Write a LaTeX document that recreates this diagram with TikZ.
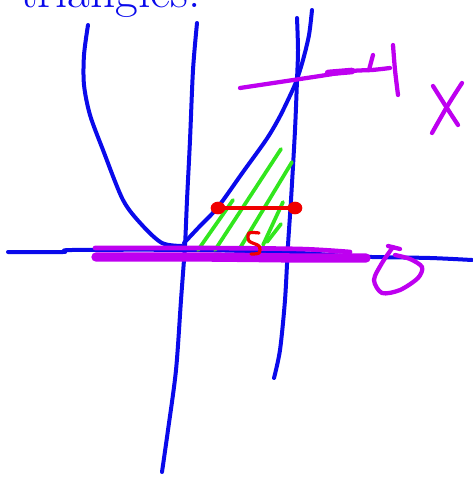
\documentclass[tikz,border=0pt]{standalone}
\usetikzlibrary{positioning,shapes.geometric}
\definecolor{penblue}{RGB}{10,10,235}
\definecolor{penpink}{RGB}{190,0,240}
\definecolor{pengreen}{RGB}{50,230,30}
\definecolor{penred}{RGB}{240,0,0}

\begin{document}
\begin{tikzpicture}
  [x=0.75pt,y=-0.75pt,line cap=round,line join=round,
   blueline/.style={draw=penblue,line width=3pt},
   pinkline/.style={draw=penpink,line width=3.2pt},
   hatch/.style={draw=pengreen,line width=2.8pt},
   redink/.style={draw=penred,line width=2.8pt},
   dot/.style={ellipse,fill=penred,inner sep=0pt,minimum width=11pt,minimum height=9.5pt}]
  \useasboundingbox (0,0) rectangle (472,477);

  % heading, cut off at the top
  \node[anchor=base west,inner sep=0pt,text=penblue,
        font=\fontsize{37}{40}\selectfont] (title) at (20,8) {triangles:};

  % axes
  \draw[blueline] plot[smooth] coordinates {(8,252) (63,252) (72,250) (200,250)
    (300,253) (345,256) (372,257) (430,258) (472,260)};
  \draw[blueline] plot[smooth] coordinates {(197,23) (193,70) (190,140) (187,200)
    (185,245) (181,300) (176,370) (168,430) (162,472)};

  % the line x = 4
  \draw[blueline] plot[smooth] coordinates {(297,18) (298,50) (297,80) (295,130)
    (291,200) (288,245) (285,300) (280,350) (274,378)};

  % parabola
  \draw[blueline] plot[smooth] coordinates {(88,25) (84,55) (84,85) (90,115)
    (103,150) (123,200) (142,225) (162,243) (182,246)};
  \draw[blueline] plot[smooth] coordinates {(184,243) (200,226) (218,207)
    (243,172) (266,140) (278,120) (287,102) (296,82) (303,60) (309,35) (312,10)};

  % shaded region
  \draw[hatch] (281,149) -- (215,250);
  \draw[hatch] (292,162) -- (240,248);
  \draw[hatch] (233,200) -- (198,250);
  \draw[hatch] (283,202) -- (263,245);
  \draw[hatch] (281,224) -- (267,242);

  % limits
  \draw[pinkline] plot[smooth] coordinates {(240,88) (280,82) (320,76) (352,71) (372,70) (390,68)};
  \draw[pinkline,line width=5pt] (328,73) -- (352,71);
  \draw[pinkline] (373,55) -- (369,70);
  \draw[pinkline] plot[smooth] coordinates {(393,45) (395,70) (398,95)};
  \draw[pinkline,line width=3.5pt] plot[smooth] coordinates {(95,248) (200,248) (300,249) (350,252)};
  \draw[pinkline,line width=7pt] plot[smooth] coordinates {(96,257) (200,257) (300,258) (366,258)};

  % 0 and x
  \draw[pinkline] (388,246) -- (400,249);
  \draw[pinkline] plot[smooth] coordinates {(393,247) (382,263) (374,280) (382,293)
    (400,290) (418,278) (422,267) (410,259) (395,255)};
  \draw[pinkline] plot[smooth] coordinates {(433,86) (445,105) (458,125)};
  \draw[pinkline] plot[smooth] coordinates {(462,83) (448,105) (432,133)};

  % cross section
  \node[dot] (left) at (218,208) {};
  \node[dot] (right) at (295,208) {};
  \draw[redink] (left) -- (right);
  \draw[redink,line width=2.4pt] plot[smooth] coordinates {(259,233) (249,233)
    (249,241) (259,246) (259,253) (251,254)};
\end{tikzpicture}
\end{document}
